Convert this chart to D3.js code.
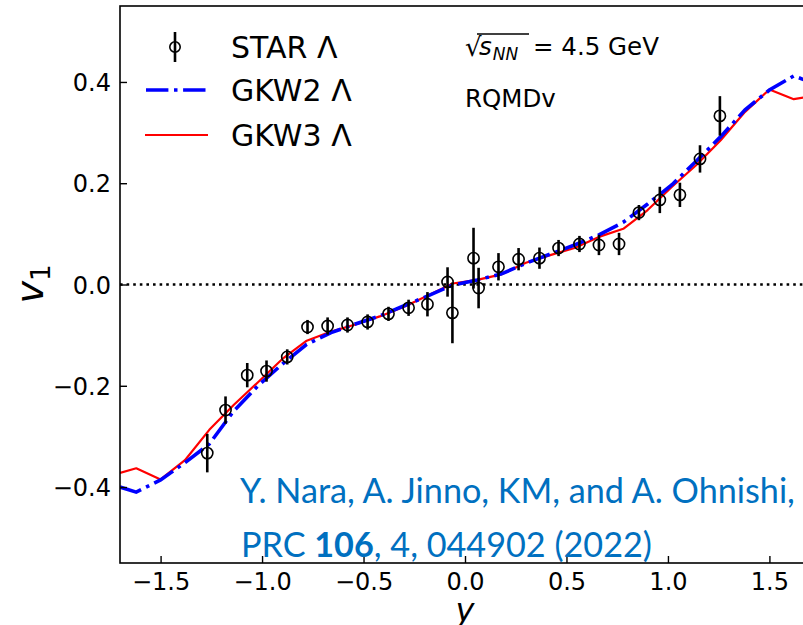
<!DOCTYPE html>
<html><head><meta charset="utf-8">
<script src="https://cdn.jsdelivr.net/npm/d3@7"></script>
<style>body{margin:0;background:#fff} svg{display:block}</style>
</head><body>
<svg id="chart" width="803" height="625"></svg>
<script>
// ---- data ----
const starY = [-1.270,-1.180,-1.073,-0.978,-0.876,-0.776,-0.677,-0.579,-0.480,-0.377,-0.278,-0.185,-0.086,-0.062,0.042,0.067,0.165,0.264,0.367,0.461,0.564,0.660,0.759,0.857,0.960,1.059,1.158,1.256];
const starV = [-0.333,-0.248,-0.179,-0.171,-0.143,-0.084,-0.082,-0.080,-0.074,-0.058,-0.046,-0.039,0.005,-0.056,0.052,-0.007,0.035,0.050,0.052,0.072,0.080,0.078,0.080,0.142,0.167,0.177,0.248,0.333];
const starErr = [0.038,0.027,0.024,0.021,0.015,0.014,0.017,0.015,0.015,0.014,0.016,0.024,0.029,0.060,0.060,0.040,0.027,0.022,0.021,0.016,0.016,0.020,0.022,0.015,0.026,0.024,0.027,0.039];
const modelY = [-1.70,-1.62,-1.50,-1.38,-1.26,-1.14,-1.02,-0.90,-0.78,-0.66,-0.54,-0.42,-0.30,-0.18,-0.06,0.06,0.18,0.30,0.42,0.54,0.66,0.78,0.90,1.02,1.14,1.26,1.38,1.50,1.62,1.70];
const gkw2V = [-0.400,-0.410,-0.386,-0.352,-0.315,-0.250,-0.200,-0.157,-0.118,-0.095,-0.078,-0.062,-0.042,-0.022,-0.001,0.009,0.021,0.042,0.060,0.078,0.098,0.123,0.159,0.197,0.244,0.292,0.345,0.384,0.412,0.400];
const gkw3V = [-0.372,-0.363,-0.385,-0.347,-0.287,-0.238,-0.193,-0.147,-0.111,-0.093,-0.079,-0.063,-0.044,-0.021,0.002,0.009,0.020,0.043,0.058,0.072,0.094,0.110,0.147,0.193,0.236,0.285,0.341,0.385,0.366,0.371];
const xTicks = [-1.5,-1.0,-0.5,0.0,0.5,1.0,1.5];
const yTicks = [-0.4,-0.2,0.0,0.2,0.4];
const legendLabels = ["STAR Λ","GKW2 Λ","GKW3 Λ"];
const citeLine1 = "Y. Nara, A. Jinno, KM, and A. Ohnishi,";
const citeLine2 = ["PRC ","106",", 4, 044902 (2022)"];

// ---- layout ----
const svg = d3.select("#chart");
const L = 120, R = 810, T = 6, B = 563;
const x = d3.scaleLinear().domain([-1.7,1.7]).range([L,R]);
const y = d3.scaleLinear().domain([-0.55,0.55]).range([B,T]);
const FONT = "DejaVu Sans, sans-serif";

svg.append("defs").append("clipPath").attr("id","clip")
  .append("rect").attr("x",L).attr("y",T).attr("width",R-L).attr("height",B-T);

// zero line
svg.append("line").attr("x1",L).attr("x2",R).attr("y1",y(0)).attr("y2",y(0))
  .attr("stroke","#000").attr("stroke-width",2.6).attr("stroke-dasharray","2.6,4.0");

const plot = svg.append("g").attr("clip-path","url(#clip)");
const line = d3.line().x(d=>x(d[0])).y(d=>y(d[1]));

plot.append("path").datum(modelY.map((v,i)=>[v,gkw3V[i]]))
  .attr("d",line).attr("fill","none").attr("stroke","#ff0000").attr("stroke-width",2.2)
  .attr("stroke-linejoin","round");
plot.append("path").datum(modelY.map((v,i)=>[v,gkw2V[i]]))
  .attr("d",line).attr("fill","none").attr("stroke","#0000ff").attr("stroke-width",3.6)
  .attr("stroke-dasharray","22.4,5.6,3.5,5.6");

// STAR points
const pts = plot.append("g");
starY.forEach((v,i)=>{
  pts.append("line").attr("x1",x(v)).attr("x2",x(v))
    .attr("y1",y(starV[i]-starErr[i])).attr("y2",y(starV[i]+starErr[i]))
    .attr("stroke","#000").attr("stroke-width",2.6);
  pts.append("circle").attr("cx",x(v)).attr("cy",y(starV[i])).attr("r",5.6)
    .attr("fill","none").attr("stroke","#000").attr("stroke-width",1.6);
});

// axes
const fmt = d3.format(".1f");
const xAxis = svg.append("g").attr("transform",`translate(0,${B})`)
  .call(d3.axisBottom(x).tickValues(xTicks).tickFormat(fmt).tickSizeInner(-7).tickSizeOuter(0).tickPadding(9));
const yAxis = svg.append("g").attr("transform",`translate(${L},0)`)
  .call(d3.axisLeft(y).tickValues(yTicks).tickFormat(fmt).tickSizeInner(-7).tickSizeOuter(0).tickPadding(9));
[xAxis,yAxis].forEach(a=>{
  a.select(".domain").remove();
  a.selectAll(".tick line").attr("stroke","#000").attr("stroke-width",1.4);
  a.selectAll("text").attr("font-family",FONT).attr("font-size",24).attr("fill","#000");
});
xAxis.selectAll("text").attr("dy",null).attr("y",27);
yAxis.selectAll("text").attr("dy","0.36em");

// frame
svg.append("rect").attr("x",L).attr("y",T).attr("width",R-L).attr("height",B-T)
  .attr("fill","none").attr("stroke","#000").attr("stroke-width",1.6);

// axis labels
const yl = svg.append("text").attr("transform","translate(43,284) rotate(-90)")
  .attr("text-anchor","middle").attr("font-family",FONT).attr("font-size",38).attr("fill","#000");
yl.append("tspan").attr("font-style","italic").text("v");
yl.append("tspan").attr("font-size",26).attr("dy",7).text("1");
svg.append("text").attr("x",x(0)).attr("y",621).attr("text-anchor","middle")
  .attr("font-family",FONT).attr("font-size",32).attr("font-style","italic").text("y");

// legend
const lg = svg.append("g");
const rows = [47,90,135];
lg.append("line").attr("x1",175).attr("x2",175).attr("y1",rows[0]-15).attr("y2",rows[0]+15)
  .attr("stroke","#000").attr("stroke-width",2.6);
lg.append("circle").attr("cx",175).attr("cy",rows[0]).attr("r",5.2)
  .attr("fill","none").attr("stroke","#000").attr("stroke-width",1.6);
lg.append("line").attr("x1",146).attr("x2",207).attr("y1",rows[1]).attr("y2",rows[1])
  .attr("stroke","#0000ff").attr("stroke-width",3.6).attr("stroke-dasharray","22.4,5.6,3.5,5.6");
lg.append("line").attr("x1",145).attr("x2",208).attr("y1",rows[2]).attr("y2",rows[2])
  .attr("stroke","#ff0000").attr("stroke-width",2.2);
legendLabels.forEach((t,i)=>{
  lg.append("text").attr("x",231).attr("y",rows[i]+10.5).attr("font-family",FONT)
    .attr("font-size",30).attr("fill","#000").text(t);
});

// energy annotation
const ann = svg.append("g").attr("font-family",FONT).attr("fill","#000");
ann.append("text").attr("x",465).attr("y",56).attr("font-size",26).text("√");
ann.append("line").attr("x1",477).attr("x2",529).attr("y1",34).attr("y2",34)
  .attr("stroke","#000").attr("stroke-width",1.3);
const sT = ann.append("text").attr("x",479).attr("y",55).attr("font-size",24.5).attr("font-style","italic").text("s");
const sw = sT.node().getComputedTextLength();
ann.append("text").attr("x",479+sw+1).attr("y",60).attr("font-size",17).attr("font-style","italic").text("NN");
ann.append("text").attr("x",533).attr("y",55).attr("font-size",24.5).text("= 4.5 GeV");
ann.append("text").attr("x",465).attr("y",107).attr("font-size",24.5).text("RQMDv");

// citation (narrow humanist face approximated by a slightly condensed Lato)
const CF = "Lato, 'Open Sans', sans-serif";
const CS = 35;
const cg = svg.append("g").attr("font-family",CF).attr("font-size",CS).attr("fill","#0070C0");
const c1 = cg.append("text").attr("x",0).attr("y",503).text(citeLine1);
const w1 = c1.node().getComputedTextLength();
const sx = 555/w1;
const c2 = cg.append("text").attr("x",1).attr("y",557);
citeLine2.forEach((t,i)=>c2.append("tspan").attr("font-weight",i===1?"bold":"normal").text(t));
cg.attr("transform",`translate(240,0) scale(${sx},1)`);
</script>
</body></html>
